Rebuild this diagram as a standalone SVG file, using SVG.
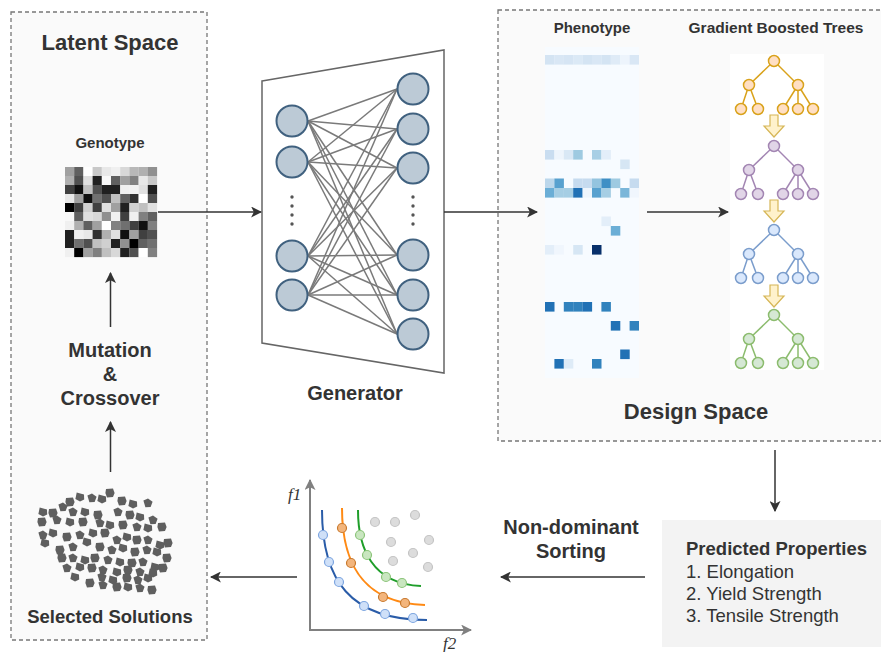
<svg xmlns="http://www.w3.org/2000/svg" xmlns:xlink="http://www.w3.org/1999/xlink" width="881" height="652" viewBox="0 0 881 652">
<style>
.t{font-family:"Liberation Sans",Arial,sans-serif;fill:#333;text-anchor:middle}
.b{font-weight:bold}
.box{fill:#fafafa;stroke:#777;stroke-width:1.3;stroke-dasharray:4 3}
.conn{stroke:#333;stroke-width:1.5;fill:none}
.nn{fill:#bccad6;stroke:#40617f;stroke-width:2}
.ne{stroke:#7a7a7a;stroke-width:1.5}
.blob{fill:#5f5f5f}
.ya{fill:#fff2cc;stroke:#d6b656;stroke-width:1.2}
.ax{stroke:#808080;stroke-width:2;fill:none}
.pl{fill:none;stroke-width:2}
</style>
<defs>
<marker id="ah" viewBox="0 0 10 10" refX="9" refY="5" markerWidth="11" markerHeight="11" markerUnits="userSpaceOnUse" orient="auto">
<path d="M0,0 L10,5 L0,10 L2.5,5 Z" fill="#333"/>
</marker>
<marker id="ag" viewBox="0 0 10 10" refX="9" refY="5" markerWidth="11" markerHeight="11" markerUnits="userSpaceOnUse" orient="auto">
<path d="M0,0 L10,5 L0,10 L2.5,5 Z" fill="#808080"/>
</marker>
<g id="tree">
<g stroke="currentColor" stroke-width="1.5">
<line x1="0" y1="0" x2="-25" y2="24"/><line x1="0" y1="0" x2="24" y2="24"/>
<line x1="-25" y1="24" x2="-33" y2="48"/><line x1="-25" y1="24" x2="-16" y2="48"/>
<line x1="24" y1="24" x2="9" y2="48"/><line x1="24" y1="24" x2="24" y2="48"/><line x1="24" y1="24" x2="39" y2="48"/>
</g>
<g stroke="currentColor" stroke-width="1.5">
<circle cx="0" cy="0" r="5.5"/><circle cx="-25" cy="24" r="5.5"/><circle cx="24" cy="24" r="5.5"/>
<circle cx="-33" cy="48" r="5.5"/><circle cx="-16" cy="48" r="5.5"/><circle cx="9" cy="48" r="5.5"/><circle cx="24" cy="48" r="5.5"/><circle cx="39" cy="48" r="5.5"/>
</g>
</g>
<path id="yarrow" class="ya" d="M-4,0 H4 V11 H10 L0,22 L-10,11 H-4 Z"/>
<path id="b1" d="M-4,-4 L3,-4.5 L4.6,0 L3,4 L-3,4.6 L-4.6,0 Z"/>
<path id="b2" d="M-3.3,-4.6 L4,-2.6 L4.2,2.6 L0,4.6 L-4.6,2 Z"/>
<path id="b3" d="M-4.6,-2.6 L0,-4.6 L4.6,-1.3 L2.6,4 L-2.6,4.2 Z"/>
</defs>
<rect width="881" height="652" fill="#fff"/>

<g id="latent-space">
<rect class="box" x="11" y="12" width="196" height="628"/>
<text class="t b" x="110" y="50" font-size="22">Latent Space</text>
</g>

<g id="genotype">
<text class="t b" x="110" y="148" font-size="15">Genotype</text>
<g transform="translate(65,167)">
<rect x="0" y="0" width="9.3" height="9.1" fill="#a0a0a0"/><rect x="9.2" y="0" width="9.3" height="9.1" fill="#606060"/><rect x="18.4" y="0" width="9.3" height="9.1" fill="#ffffff"/><rect x="27.6" y="0" width="9.3" height="9.1" fill="#c8c8c8"/><rect x="36.8" y="0" width="9.3" height="9.1" fill="#e8e8e8"/><rect x="46" y="0" width="9.3" height="9.1" fill="#f0f0f0"/><rect x="55.2" y="0" width="9.3" height="9.1" fill="#d8d8d8"/><rect x="64.4" y="0" width="9.3" height="9.1" fill="#b8b8b8"/><rect x="73.6" y="0" width="9.3" height="9.1" fill="#b0b0b0"/><rect x="82.8" y="0" width="9.3" height="9.1" fill="#909090"/>
<rect x="0" y="9" width="9.3" height="9.1" fill="#b0b0b0"/><rect x="9.2" y="9" width="9.3" height="9.1" fill="#505050"/><rect x="18.4" y="9" width="9.3" height="9.1" fill="#e0e0e0"/><rect x="27.6" y="9" width="9.3" height="9.1" fill="#202020"/><rect x="36.8" y="9" width="9.3" height="9.1" fill="#f8f8f8"/><rect x="46" y="9" width="9.3" height="9.1" fill="#606060"/><rect x="55.2" y="9" width="9.3" height="9.1" fill="#a0a0a0"/><rect x="64.4" y="9" width="9.3" height="9.1" fill="#808080"/><rect x="73.6" y="9" width="9.3" height="9.1" fill="#e8e8e8"/><rect x="82.8" y="9" width="9.3" height="9.1" fill="#c8c8c8"/>
<rect x="0" y="18" width="9.3" height="9.1" fill="#404040"/><rect x="9.2" y="18" width="9.3" height="9.1" fill="#101010"/><rect x="18.4" y="18" width="9.3" height="9.1" fill="#c0c0c0"/><rect x="27.6" y="18" width="9.3" height="9.1" fill="#505050"/><rect x="36.8" y="18" width="9.3" height="9.1" fill="#202020"/><rect x="46" y="18" width="9.3" height="9.1" fill="#202020"/><rect x="55.2" y="18" width="9.3" height="9.1" fill="#f0f0f0"/><rect x="64.4" y="18" width="9.3" height="9.1" fill="#f0f0f0"/><rect x="73.6" y="18" width="9.3" height="9.1" fill="#e0e0e0"/><rect x="82.8" y="18" width="9.3" height="9.1" fill="#202020"/>
<rect x="0" y="27" width="9.3" height="9.1" fill="#e8e8e8"/><rect x="9.2" y="27" width="9.3" height="9.1" fill="#a0a0a0"/><rect x="18.4" y="27" width="9.3" height="9.1" fill="#101010"/><rect x="27.6" y="27" width="9.3" height="9.1" fill="#707070"/><rect x="36.8" y="27" width="9.3" height="9.1" fill="#505050"/><rect x="46" y="27" width="9.3" height="9.1" fill="#c0c0c0"/><rect x="55.2" y="27" width="9.3" height="9.1" fill="#606060"/><rect x="64.4" y="27" width="9.3" height="9.1" fill="#303030"/><rect x="73.6" y="27" width="9.3" height="9.1" fill="#ffffff"/><rect x="82.8" y="27" width="9.3" height="9.1" fill="#505050"/>
<rect x="0" y="36" width="9.3" height="9.1" fill="#000000"/><rect x="9.2" y="36" width="9.3" height="9.1" fill="#404040"/><rect x="18.4" y="36" width="9.3" height="9.1" fill="#d0d0d0"/><rect x="27.6" y="36" width="9.3" height="9.1" fill="#404040"/><rect x="36.8" y="36" width="9.3" height="9.1" fill="#e0e0e0"/><rect x="46" y="36" width="9.3" height="9.1" fill="#a0a0a0"/><rect x="55.2" y="36" width="9.3" height="9.1" fill="#202020"/><rect x="64.4" y="36" width="9.3" height="9.1" fill="#d0d0d0"/><rect x="73.6" y="36" width="9.3" height="9.1" fill="#c0c0c0"/><rect x="82.8" y="36" width="9.3" height="9.1" fill="#e0e0e0"/>
<rect x="0" y="45" width="9.3" height="9.1" fill="#f8f8f8"/><rect x="9.2" y="45" width="9.3" height="9.1" fill="#606060"/><rect x="18.4" y="45" width="9.3" height="9.1" fill="#e0e0e0"/><rect x="27.6" y="45" width="9.3" height="9.1" fill="#d8d8d8"/><rect x="36.8" y="45" width="9.3" height="9.1" fill="#909090"/><rect x="46" y="45" width="9.3" height="9.1" fill="#f0f0f0"/><rect x="55.2" y="45" width="9.3" height="9.1" fill="#404040"/><rect x="64.4" y="45" width="9.3" height="9.1" fill="#f0f0f0"/><rect x="73.6" y="45" width="9.3" height="9.1" fill="#808080"/><rect x="82.8" y="45" width="9.3" height="9.1" fill="#606060"/>
<rect x="0" y="54" width="9.3" height="9.1" fill="#f0f0f0"/><rect x="9.2" y="54" width="9.3" height="9.1" fill="#b0b0b0"/><rect x="18.4" y="54" width="9.3" height="9.1" fill="#606060"/><rect x="27.6" y="54" width="9.3" height="9.1" fill="#a0a0a0"/><rect x="36.8" y="54" width="9.3" height="9.1" fill="#ffffff"/><rect x="46" y="54" width="9.3" height="9.1" fill="#808080"/><rect x="55.2" y="54" width="9.3" height="9.1" fill="#707070"/><rect x="64.4" y="54" width="9.3" height="9.1" fill="#404040"/><rect x="73.6" y="54" width="9.3" height="9.1" fill="#101010"/><rect x="82.8" y="54" width="9.3" height="9.1" fill="#808080"/>
<rect x="0" y="63" width="9.3" height="9.1" fill="#202020"/><rect x="9.2" y="63" width="9.3" height="9.1" fill="#f0f0f0"/><rect x="18.4" y="63" width="9.3" height="9.1" fill="#e8e8e8"/><rect x="27.6" y="63" width="9.3" height="9.1" fill="#303030"/><rect x="36.8" y="63" width="9.3" height="9.1" fill="#b0b0b0"/><rect x="46" y="63" width="9.3" height="9.1" fill="#e0e0e0"/><rect x="55.2" y="63" width="9.3" height="9.1" fill="#101010"/><rect x="64.4" y="63" width="9.3" height="9.1" fill="#a0a0a0"/><rect x="73.6" y="63" width="9.3" height="9.1" fill="#404040"/><rect x="82.8" y="63" width="9.3" height="9.1" fill="#505050"/>
<rect x="0" y="72" width="9.3" height="9.1" fill="#202020"/><rect x="9.2" y="72" width="9.3" height="9.1" fill="#707070"/><rect x="18.4" y="72" width="9.3" height="9.1" fill="#505050"/><rect x="27.6" y="72" width="9.3" height="9.1" fill="#c0c0c0"/><rect x="36.8" y="72" width="9.3" height="9.1" fill="#d0d0d0"/><rect x="46" y="72" width="9.3" height="9.1" fill="#202020"/><rect x="55.2" y="72" width="9.3" height="9.1" fill="#909090"/><rect x="64.4" y="72" width="9.3" height="9.1" fill="#000000"/><rect x="73.6" y="72" width="9.3" height="9.1" fill="#606060"/><rect x="82.8" y="72" width="9.3" height="9.1" fill="#707070"/>
<rect x="0" y="81" width="9.3" height="9.1" fill="#f0f0f0"/><rect x="9.2" y="81" width="9.3" height="9.1" fill="#000000"/><rect x="18.4" y="81" width="9.3" height="9.1" fill="#a0a0a0"/><rect x="27.6" y="81" width="9.3" height="9.1" fill="#808080"/><rect x="36.8" y="81" width="9.3" height="9.1" fill="#c0c0c0"/><rect x="46" y="81" width="9.3" height="9.1" fill="#d8d8d8"/><rect x="55.2" y="81" width="9.3" height="9.1" fill="#202020"/><rect x="64.4" y="81" width="9.3" height="9.1" fill="#505050"/><rect x="73.6" y="81" width="9.3" height="9.1" fill="#ffffff"/><rect x="82.8" y="81" width="9.3" height="9.1" fill="#808080"/>
</g>
</g>

<g id="mutation-crossover">
<text class="t b" x="110" y="357" font-size="20">Mutation</text>
<text class="t b" x="110" y="381" font-size="20">&amp;</text>
<text class="t b" x="110" y="405" font-size="20">Crossover</text>
</g>

<g id="selected-solutions">
<g class="blob">
<use href="#b1" x="110" y="493"/><use href="#b2" x="102" y="499"/><use href="#b3" x="92" y="498"/><use href="#b2" x="80" y="497"/><use href="#b1" x="70" y="502"/><use href="#b3" x="63" y="507"/><use href="#b1" x="122" y="501"/><use href="#b2" x="133" y="504"/><use href="#b3" x="148" y="503"/>
<use href="#b2" x="43" y="512"/><use href="#b1" x="53" y="513"/><use href="#b3" x="73" y="512"/><use href="#b2" x="85" y="512"/><use href="#b1" x="98" y="515"/><use href="#b3" x="118" y="512"/><use href="#b1" x="130" y="515"/><use href="#b2" x="140" y="517"/><use href="#b3" x="153" y="520"/>
<use href="#b1" x="42" y="522"/><use href="#b3" x="57" y="520"/><use href="#b2" x="70" y="522"/><use href="#b1" x="83" y="522"/><use href="#b3" x="100" y="523"/><use href="#b2" x="110" y="525"/><use href="#b1" x="123" y="525"/><use href="#b3" x="137" y="527"/><use href="#b2" x="148" y="528"/><use href="#b1" x="162" y="527"/>
<use href="#b3" x="43" y="535"/><use href="#b2" x="53" y="533"/><use href="#b1" x="67" y="537"/><use href="#b3" x="80" y="535"/><use href="#b2" x="93" y="533"/><use href="#b1" x="105" y="533"/><use href="#b3" x="117" y="540"/><use href="#b2" x="127" y="537"/><use href="#b1" x="137" y="540"/><use href="#b3" x="148" y="540"/><use href="#b2" x="160" y="545"/><use href="#b1" x="168" y="543"/>
<use href="#b2" x="45" y="543"/><use href="#b1" x="60" y="550"/><use href="#b3" x="73" y="547"/><use href="#b2" x="87" y="542"/><use href="#b1" x="100" y="547"/><use href="#b3" x="112" y="550"/><use href="#b2" x="123" y="548"/><use href="#b1" x="135" y="552"/><use href="#b3" x="147" y="550"/><use href="#b2" x="157" y="552"/>
<use href="#b1" x="62" y="558"/><use href="#b3" x="73" y="558"/><use href="#b2" x="85" y="560"/><use href="#b1" x="95" y="558"/><use href="#b3" x="108" y="560"/><use href="#b2" x="120" y="562"/><use href="#b1" x="132" y="563"/><use href="#b3" x="143" y="562"/><use href="#b2" x="155" y="567"/><use href="#b1" x="167" y="558"/>
<use href="#b3" x="67" y="568"/><use href="#b2" x="80" y="567"/><use href="#b1" x="92" y="568"/><use href="#b3" x="103" y="570"/><use href="#b2" x="117" y="572"/><use href="#b1" x="128" y="570"/><use href="#b3" x="140" y="572"/><use href="#b2" x="153" y="573"/><use href="#b1" x="163" y="568"/>
<use href="#b2" x="75" y="577"/><use href="#b1" x="90" y="583"/><use href="#b3" x="102" y="577"/><use href="#b2" x="113" y="580"/><use href="#b1" x="127" y="578"/><use href="#b3" x="138" y="580"/><use href="#b2" x="148" y="578"/>
<use href="#b3" x="103" y="585"/><use href="#b1" x="117" y="587"/><use href="#b2" x="128" y="587"/><use href="#b3" x="140" y="588"/><use href="#b1" x="152" y="590"/>
</g>
<text class="t b" x="110" y="623" font-size="18.5">Selected Solutions</text>
</g>

<g id="generator">
<path d="M262,81 L444,50 L444,373 L262,343 Z" fill="#fff" stroke="#666" stroke-width="1.5"/>
<g class="ne">
<line x1="308" y1="121" x2="397" y2="89"/><line x1="308" y1="121" x2="397" y2="129"/><line x1="308" y1="121" x2="397" y2="168"/><line x1="308" y1="121" x2="397" y2="255"/><line x1="308" y1="121" x2="397" y2="295"/><line x1="308" y1="121" x2="397" y2="334"/>
<line x1="308" y1="162" x2="397" y2="89"/><line x1="308" y1="162" x2="397" y2="129"/><line x1="308" y1="162" x2="397" y2="168"/><line x1="308" y1="162" x2="397" y2="255"/><line x1="308" y1="162" x2="397" y2="295"/><line x1="308" y1="162" x2="397" y2="334"/>
<line x1="308" y1="256" x2="397" y2="89"/><line x1="308" y1="256" x2="397" y2="129"/><line x1="308" y1="256" x2="397" y2="168"/><line x1="308" y1="256" x2="397" y2="255"/><line x1="308" y1="256" x2="397" y2="295"/><line x1="308" y1="256" x2="397" y2="334"/>
<line x1="308" y1="295" x2="397" y2="89"/><line x1="308" y1="295" x2="397" y2="129"/><line x1="308" y1="295" x2="397" y2="168"/><line x1="308" y1="295" x2="397" y2="255"/><line x1="308" y1="295" x2="397" y2="295"/><line x1="308" y1="295" x2="397" y2="334"/>
</g>
<circle class="nn" cx="292" cy="121" r="15.5"/><circle class="nn" cx="292" cy="162" r="15.5"/><circle class="nn" cx="292" cy="256" r="15.5"/><circle class="nn" cx="292" cy="295" r="15.5"/>
<circle class="nn" cx="413" cy="89" r="15.5"/><circle class="nn" cx="413" cy="129" r="15.5"/><circle class="nn" cx="413" cy="168" r="15.5"/><circle class="nn" cx="413" cy="255" r="15.5"/><circle class="nn" cx="413" cy="295" r="15.5"/><circle class="nn" cx="413" cy="334" r="15.5"/>
<g fill="#555">
<circle cx="292" cy="197" r="1.7"/><circle cx="292" cy="206" r="1.7"/><circle cx="292" cy="215" r="1.7"/><circle cx="292" cy="224" r="1.7"/>
<circle cx="413" cy="197" r="1.7"/><circle cx="413" cy="206" r="1.7"/><circle cx="413" cy="215" r="1.7"/><circle cx="413" cy="224" r="1.7"/>
</g>
<text class="t b" x="355" y="400" font-size="20">Generator</text>
</g>

<g id="design-space">
<rect class="box" x="498" y="10" width="390" height="431"/>
<text class="t b" x="696" y="419" font-size="22">Design Space</text>
</g>

<g id="phenotype">
<text class="t b" x="592" y="33" font-size="15">Phenotype</text>
<rect x="545" y="47" width="94" height="331" fill="#f7fbff"/>
<g>
<rect x="545" y="55" width="9.5" height="9.6" fill="#d4e4f3"/><rect x="554.4" y="55" width="9.5" height="9.6" fill="#d9e7f5"/><rect x="563.8" y="55" width="9.5" height="9.6" fill="#d6e5f4"/><rect x="573.2" y="55" width="9.5" height="9.6" fill="#dbe9f6"/><rect x="582.6" y="55" width="9.5" height="9.6" fill="#d4e4f3"/><rect x="592" y="55" width="9.5" height="9.6" fill="#d9e7f5"/><rect x="601.4" y="55" width="9.5" height="9.6" fill="#d4e4f3"/><rect x="610.8" y="55" width="9.5" height="9.6" fill="#dfebf7"/><rect x="620.2" y="55" width="9.5" height="9.6" fill="#edf4fc"/><rect x="629.6" y="55" width="9.4" height="9.6" fill="#d9e7f5"/>
<rect x="545" y="150" width="9.5" height="9.6" fill="#c9ddf0"/><rect x="554.4" y="150" width="9.5" height="9.6" fill="#eef5fc"/><rect x="563.8" y="150" width="9.5" height="9.6" fill="#d9e8f5"/><rect x="573.2" y="150" width="9.5" height="9.6" fill="#9ecae1"/><rect x="592" y="150" width="9.5" height="9.6" fill="#a8cfe5"/><rect x="601.4" y="150" width="9.5" height="9.6" fill="#e3eef9"/>
<rect x="620.2" y="159.5" width="9.5" height="9.6" fill="#d6e6f4"/>
<rect x="545" y="178.5" width="9.5" height="9.6" fill="#bcd7eb"/><rect x="554.4" y="178.5" width="9.5" height="9.6" fill="#58a1cf"/><rect x="573.2" y="178.5" width="9.5" height="9.6" fill="#c6dbef"/><rect x="582.6" y="178.5" width="9.5" height="9.6" fill="#c6dbef"/><rect x="592" y="178.5" width="9.5" height="9.6" fill="#94c4df"/><rect x="601.4" y="178.5" width="9.5" height="9.6" fill="#3f8fc5"/><rect x="610.8" y="178.5" width="9.5" height="9.6" fill="#9ecae1"/><rect x="629.6" y="178.5" width="9.4" height="9.6" fill="#c6dbef"/>
<rect x="545" y="188" width="9.5" height="9.6" fill="#6baed6"/><rect x="554.4" y="188" width="9.5" height="9.6" fill="#a6cee4"/><rect x="563.8" y="188" width="9.5" height="9.6" fill="#a6cee4"/><rect x="573.2" y="188" width="9.5" height="9.6" fill="#2171b5"/><rect x="582.6" y="188" width="9.5" height="9.6" fill="#eef5fc"/><rect x="592" y="188" width="9.5" height="9.6" fill="#58a1cf"/><rect x="601.4" y="188" width="9.5" height="9.6" fill="#a6cee4"/><rect x="620.2" y="188" width="9.5" height="9.6" fill="#7ab6d9"/><rect x="629.6" y="188" width="9.4" height="9.6" fill="#f0f6fd"/>
<rect x="601.4" y="216.5" width="9.5" height="9.6" fill="#e3eef9"/>
<rect x="610.8" y="226" width="9.5" height="9.6" fill="#6baed6"/>
<rect x="545" y="245" width="9.5" height="9.6" fill="#e3eef9"/><rect x="554.4" y="245" width="9.5" height="9.6" fill="#f0f6fd"/><rect x="573.2" y="245" width="9.5" height="9.6" fill="#d6e6f4"/><rect x="592" y="245" width="9.5" height="9.6" fill="#08306b"/>
<rect x="545" y="302" width="9.5" height="9.6" fill="#2171b5"/><rect x="563.8" y="302" width="9.5" height="9.6" fill="#3182bd"/><rect x="573.2" y="302" width="9.5" height="9.6" fill="#3182bd"/><rect x="582.6" y="302" width="9.5" height="9.6" fill="#2171b5"/><rect x="601.4" y="302" width="9.5" height="9.6" fill="#3182bd"/>
<rect x="610.8" y="321" width="9.5" height="9.6" fill="#2171b5"/><rect x="629.6" y="321" width="9.4" height="9.6" fill="#3182bd"/>
<rect x="620.2" y="349.5" width="9.5" height="9.6" fill="#2171b5"/>
<rect x="554.4" y="359" width="9.5" height="9.6" fill="#2171b5"/><rect x="563.8" y="359" width="9.5" height="9.6" fill="#deebf7"/><rect x="592" y="359" width="9.5" height="9.6" fill="#3182bd"/>
</g>
</g>

<g id="gradient-boosted-trees">
<text class="t b" x="776" y="33" font-size="15.5">Gradient Boosted Trees</text>
<rect x="730" y="54" width="94" height="316" fill="#fff"/>
<use href="#tree" x="774" y="61" style="color:#d9a21b;fill:#ffdfc4"/>
<use href="#yarrow" x="774" y="115"/>
<use href="#tree" x="774" y="146" style="color:#a386b3;fill:#e1d5e7"/>
<use href="#yarrow" x="774" y="200"/>
<use href="#tree" x="774" y="230" style="color:#7b9dcc;fill:#dae8fc"/>
<use href="#yarrow" x="774" y="285"/>
<use href="#tree" x="774" y="315" style="color:#8cbc6e;fill:#d5e8d4"/>
</g>

<g id="predicted-properties">
<rect x="662" y="520" width="219" height="127" fill="#f3f3f3"/>
<text class="t b" x="686" y="555" font-size="18.5" style="text-anchor:start">Predicted Properties</text>
<text class="t" x="686" y="578" font-size="18.5" style="text-anchor:start">1. Elongation</text>
<text class="t" x="686" y="600" font-size="18.5" style="text-anchor:start">2. Yield Strength</text>
<text class="t" x="686" y="622" font-size="18.5" style="text-anchor:start">3. Tensile Strength</text>
</g>

<g id="non-dominant-sorting">
<text class="t b" x="571" y="534" font-size="20">Non-dominant</text>
<text class="t b" x="571" y="558" font-size="20">Sorting</text>
</g>

<g id="pareto-plot">
<line class="ax" x1="310" y1="631" x2="310" y2="480" marker-end="url(#ag)"/>
<line class="ax" x1="309" y1="630" x2="471" y2="630" marker-end="url(#ag)"/>
<text x="288" y="500" font-family="Liberation Serif,serif" font-style="italic" font-size="17" fill="#333">f1</text>
<text x="443" y="649" font-family="Liberation Serif,serif" font-style="italic" font-size="17" fill="#333">f2</text>
<g fill="#dcdcdc" stroke="#c4c4c4" stroke-width="1.2">
<circle cx="375" cy="522" r="4.5"/><circle cx="395" cy="522" r="4.5"/><circle cx="415" cy="515" r="4.5"/><circle cx="391" cy="542" r="4.5"/><circle cx="429" cy="540" r="4.5"/><circle cx="413" cy="553" r="4.5"/><circle cx="393" cy="561" r="4.5"/><circle cx="428" cy="567" r="4.5"/>
</g>
<path class="pl" stroke="#2a5ca8" d="M322,510 C322,580 350,620 427,620"/>
<path class="pl" stroke="#ff8a14" d="M342,508 C342,560 360,603 425,605"/>
<path class="pl" stroke="#1f9e2a" d="M358,510 C358,548 372,584 421,586"/>
<g fill="#cfe0f8" stroke="#7ea6e0" stroke-width="1.2">
<circle cx="323" cy="535" r="4.5"/><circle cx="329" cy="562" r="4.5"/><circle cx="339" cy="582" r="4.5"/><circle cx="364" cy="606" r="4.5"/><circle cx="385" cy="614" r="4.5"/><circle cx="413" cy="618" r="4.5"/>
</g>
<g fill="#f3b57c" stroke="#c8792e" stroke-width="1.2">
<circle cx="342" cy="528" r="4.5"/><circle cx="351" cy="563" r="4.5"/><circle cx="383" cy="597" r="4.5"/><circle cx="405" cy="603" r="4.5"/>
</g>
<g fill="#c9e6c0" stroke="#8cc47a" stroke-width="1.2">
<circle cx="360" cy="535" r="4.5"/><circle cx="367" cy="555" r="4.5"/><circle cx="386" cy="577" r="4.5"/><circle cx="402" cy="583" r="4.5"/>
</g>
</g>

<g id="connectors">
<line class="conn" x1="158" y1="212" x2="261" y2="212" marker-end="url(#ah)"/>
<line class="conn" x1="444" y1="212" x2="537" y2="212" marker-end="url(#ah)"/>
<line class="conn" x1="647" y1="212" x2="728" y2="212" marker-end="url(#ah)"/>
<line class="conn" x1="775" y1="450" x2="775" y2="511" marker-end="url(#ah)"/>
<line class="conn" x1="645" y1="577" x2="501" y2="577" marker-end="url(#ah)"/>
<line class="conn" x1="297" y1="577" x2="211" y2="577" marker-end="url(#ah)"/>
<line class="conn" x1="110.5" y1="472" x2="110.5" y2="422" marker-end="url(#ah)"/>
<line class="conn" x1="110.5" y1="327" x2="110.5" y2="273" marker-end="url(#ah)"/>
</g>
</svg>
